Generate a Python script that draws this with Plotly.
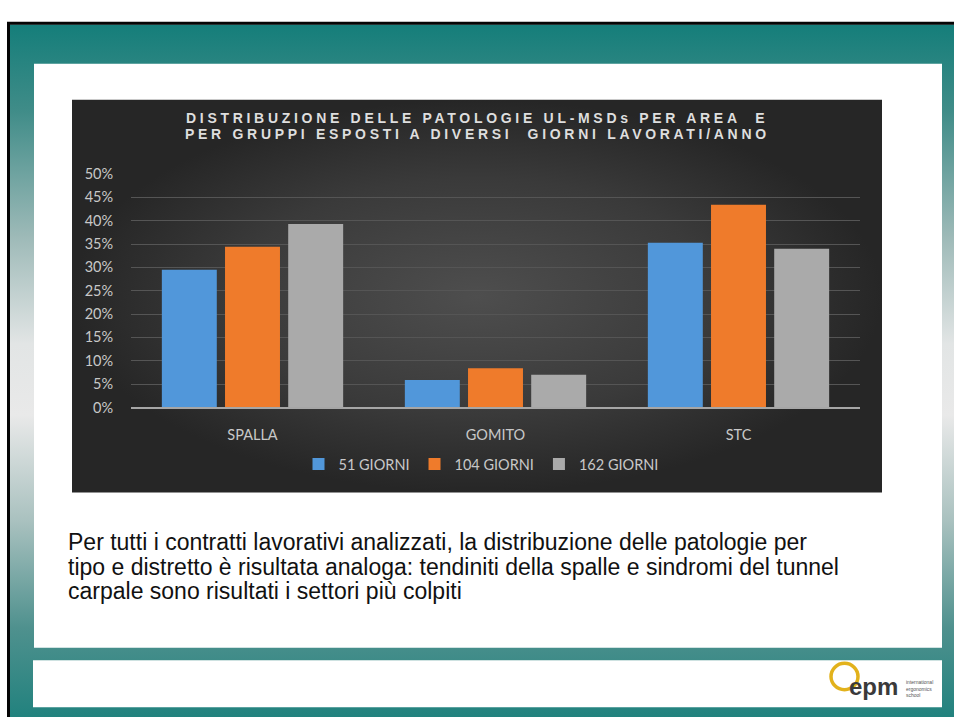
import plotly.graph_objects as go

# ---------------- data ----------------
categories = ["SPALLA", "GOMITO", "STC"]
series_names = ["51 GIORNI", "104 GIORNI", "162 GIORNI"]
giorni_51 = [29.5, 5.9, 35.3]
giorni_104 = [34.4, 8.4, 43.4]
giorni_162 = [39.3, 7.0, 34.0]
y_ticks = [0, 5, 10, 15, 20, 25, 30, 35, 40, 45, 50]
y_tick_labels = ["0%", "5%", "10%", "15%", "20%", "25%", "30%", "35%", "40%", "45%", "50%"]

chart_title = ("DISTRIBUZIONE DELLE PATOLOGIE UL-MSDs PER AREA  E",
               "PER GRUPPI ESPOSTI A DIVERSI  GIORNI LAVORATI/ANNO")
body_lines = [
    "Per tutti i contratti lavorativi analizzati, la distribuzione delle patologie per",
    "tipo e distretto è risultata analoga: tendiniti della spalle e sindromi del tunnel",
    "carpale sono risultati i settori più colpiti",
]

W, H = 954, 725
series_values = [giorni_51, giorni_104, giorni_162]
series_colors = ["#5197da", "#ef7b2b", "#aaaaaa"]

fig = go.Figure()


def rect(x0, y0, x1, y1):
    return [x0, x1, x1, x0, x0], [y0, y0, y1, y1, y0]


# teal slide frame with vertical gradient
xs, ys = rect(10, 16, W + 2, H + 2)
fig.add_trace(go.Scatter(
    x=xs, y=ys, mode="lines", line=dict(width=0), fill="toself",
    fillgradient=dict(type="vertical", start=16, stop=H,
                      colorscale=[[0, "#157e7a"], [0.12, "#3f8c88"], [0.3, "#9ebab8"],
                                  [0.45, "#e2e5e5"], [0.55, "#e9e9e9"], [0.7, "#a9c1bf"],
                                  [0.85, "#4f918e"], [1, "#197f7b"]]),
    hoverinfo="skip", showlegend=False, xaxis="x", yaxis="y"))

# black frame lines (top and left)
fig.add_trace(go.Scatter(
    x=[8.5, 8.5, W + 2], y=[H + 2, 14.5, 14.5], mode="lines",
    line=dict(color="#050505", width=3), hoverinfo="skip", showlegend=False,
    xaxis="x", yaxis="y"))

# white content box and footer box
for (a, b, c, d) in [(34, 56, 942, 654), (33, 667, 942, 715)]:
    xs, ys = rect(a, b, c, d)
    fig.add_trace(go.Scatter(
        x=xs, y=ys, mode="lines", line=dict(width=0), fill="toself",
        fillcolor="#ffffff", hoverinfo="skip", showlegend=False,
        xaxis="x", yaxis="y"))

# dark chart background with radial gradient
xs, ys = rect(72, 93, 882, 495)
fig.add_trace(go.Scatter(
    x=xs, y=ys, mode="lines", line=dict(width=0), fill="toself",
    fillgradient=dict(type="radial",
                      colorscale=[[0, "#4e4e4e"], [0.6, "#3a3a3a"], [1, "#262626"]]),
    hoverinfo="skip", showlegend=False, xaxis="x", yaxis="y"))

# bars
for name, vals, col in zip(series_names, series_values, series_colors):
    fig.add_trace(go.Bar(
        x=categories, y=vals, name=name, marker=dict(color=col, line=dict(width=0)),
        xaxis="x2", yaxis="y2",
        hovertemplate="%{x}: %{y}%<extra>" + name + "</extra>"))

chart_font = "Lato, 'Open Sans', sans-serif"
tick_color = "#c8c8c8"

fig.update_layout(
    width=W, height=H,
    margin=dict(l=0, r=0, t=0, b=0),
    paper_bgcolor="#ffffff",
    plot_bgcolor="rgba(0,0,0,0)",
    barmode="group", bargap=0.22, bargroupgap=0.13,
    xaxis=dict(domain=[0, 1], range=[0, W], visible=False, fixedrange=True),
    yaxis=dict(domain=[0, 1], range=[H, 0], visible=False, fixedrange=True),
    xaxis2=dict(domain=[131 / W, 860 / W], anchor="y2",
                showgrid=False, showline=True, linecolor="#a6a6a6", linewidth=2,
                ticks="outside", ticklen=13, tickcolor="rgba(0,0,0,0)",
                tickfont=dict(family=chart_font, size=14.5, color=tick_color),
                fixedrange=True),
    yaxis2=dict(domain=[1 - 408 / H, 1 - 169 / H], anchor="x2",
                range=[0, 50], tickvals=y_ticks, ticktext=y_tick_labels,
                showgrid=True, gridcolor="#555555", gridwidth=1,
                zeroline=False, showline=False,
                ticks="outside", ticklen=14, tickcolor="rgba(0,0,0,0)",
                tickfont=dict(family=chart_font, size=14.5, color=tick_color),
                fixedrange=True),
    legend=dict(orientation="h", x=481 / W, xanchor="center",
                y=1 - 466 / H, yanchor="middle",
                font=dict(family=chart_font, size=14.5, color=tick_color),
                bgcolor="rgba(0,0,0,0)", itemwidth=30, traceorder="normal"),
    showlegend=True,
)

# chart title (two lines, letter-spaced)
for i, line in enumerate(chart_title):
    fig.add_annotation(
        x=477, y=112 + i * 16.5, xref="x", yref="y", showarrow=False,
        xanchor="center", yanchor="middle",
        text='<span style="letter-spacing:3.7px"><b>' + line + "</b></span>",
        font=dict(family="'Liberation Sans', Arial, sans-serif", size=14, color="#dedede"))

# body text, one annotation per line
for i, line in enumerate(body_lines):
    fig.add_annotation(
        x=66, y=546 + i * 25, xref="x", yref="y", showarrow=False,
        xanchor="left", yanchor="middle", align="left", text=line,
        font=dict(family="'Liberation Sans', Arial, sans-serif", size=23, color="#111111"))

# logo
fig.add_shape(type="circle", xref="x", yref="y", x0=831, y0=670, x1=858, y1=697,
              line=dict(color="#e2b21c", width=3.5), layer="above")
fig.add_annotation(
    x=847, y=694, xref="x", yref="y", showarrow=False, xanchor="left", yanchor="middle",
    text="<b>epm</b>", font=dict(family="'Liberation Sans', Arial, sans-serif", size=24, color="#3a3a3a"),
    bgcolor="rgba(0,0,0,0)")
fig.add_annotation(
    x=904, y=696, xref="x", yref="y", showarrow=False, xanchor="left", yanchor="middle",
    align="left", text="international<br>ergonomics<br>school",
    font=dict(family="'Liberation Sans', Arial, sans-serif", size=5, color="#555555"))

fig.write_html("out.html", config={"displayModeBar": False},
               post_script="document.body.style.margin='0';document.body.style.overflow='hidden';")
